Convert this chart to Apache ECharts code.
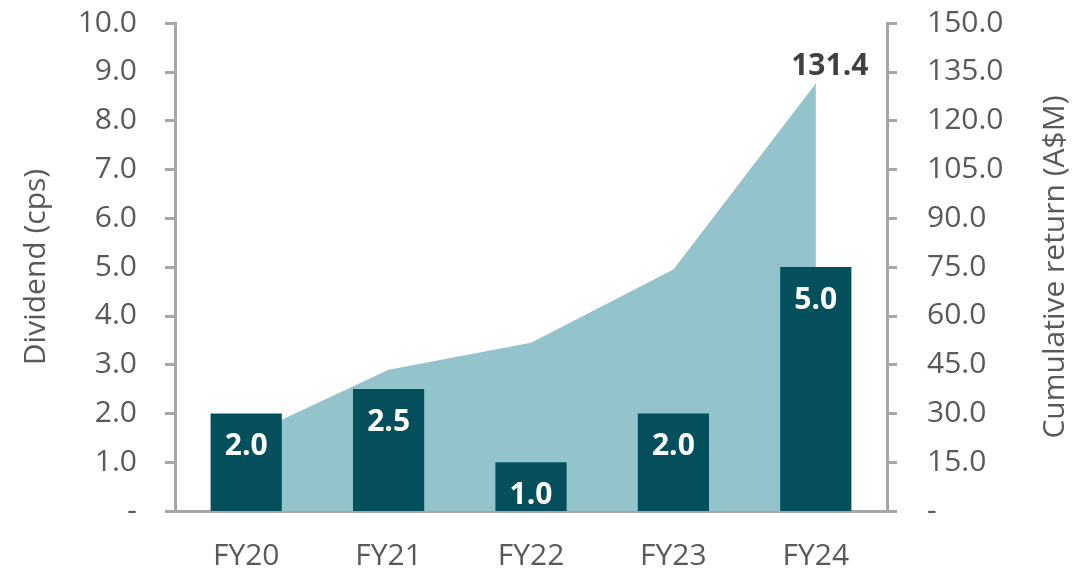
<!DOCTYPE html>
<html>
<head>
<meta charset="utf-8">
<script src="https://cdn.jsdelivr.net/npm/echarts@6/dist/echarts.min.js"></script>
<style>
  html, body { margin: 0; padding: 0; background: #fff; }
  #chart { width: 1074px; height: 571px; }
</style>
</head>
<body>
<div id="chart"></div>
<script>
const categories = ['FY20', 'FY21', 'FY22', 'FY23', 'FY24']
const dividends = [2.0, 2.5, 1.0, 2.0, 5.0]
const cumulativeReturn = [23.0, 43.4, 51.7, 74.2, 131.4]

const axisGrey = '#A6A6A6'
const textGrey = '#595959'
const areaColor = '#93C4CB'
const font = '"Open Sans", "Liberation Sans", sans-serif'

const chart = echarts.init(document.getElementById('chart'))

const fmt = v => (v === 0 ? '-' : v.toFixed(1))

chart.setOption({
  animation: false,
  grid: { left: 175, right: 187, top: 23, bottom: 60, outerBoundsMode: 'none' },
  xAxis: {
    type: 'category',
    data: categories,
    axisLine: { lineStyle: { color: axisGrey, width: 3 } },
    axisTick: { show: false },
    axisLabel: { color: textGrey, fontSize: 30, fontFamily: font, margin: 30 }
  },
  yAxis: [
    {
      type: 'value',
      min: 0, max: 10, interval: 1,
      name: 'Dividend (cps)',
      nameLocation: 'middle',
      nameGap: 124,
      nameTextStyle: { color: textGrey, fontSize: 30, fontFamily: font },
      axisLine: { show: true, lineStyle: { color: axisGrey, width: 3 } },
      axisTick: { show: true, length: 10, lineStyle: { color: axisGrey, width: 3 } },
      splitLine: { show: false },
      axisLabel: { color: textGrey, fontSize: 30, fontFamily: font, margin: 38, formatter: fmt }
    },
    {
      type: 'value',
      min: 0, max: 150, interval: 15,
      name: 'Cumulative return (A$M)',
      nameLocation: 'middle',
      nameGap: 153,
      nameRotate: 90,
      nameTextStyle: { color: textGrey, fontSize: 30, fontFamily: font },
      axisLine: { show: true, lineStyle: { color: axisGrey, width: 3 } },
      axisTick: { show: true, length: 10, lineStyle: { color: axisGrey, width: 3 } },
      splitLine: { show: false },
      axisLabel: { color: textGrey, fontSize: 30, fontFamily: font, margin: 40, formatter: fmt }
    }
  ],
  series: [
    {
      name: 'Cumulative return',
      type: 'line',
      yAxisIndex: 1,
      z: 1,
      symbol: 'circle',
      symbolSize: 1,
      showSymbol: true,
      itemStyle: { color: areaColor },
      lineStyle: { width: 0 },
      areaStyle: { color: areaColor, opacity: 1 },
      data: cumulativeReturn.map((v, i) => i === cumulativeReturn.length - 1
        ? { value: v, label: { show: true, position: 'top', distance: 2, offset: [14, 0], color: '#404040', fontWeight: 'bold', fontSize: 30, fontFamily: font, formatter: p => p.value.toFixed(1) } }
        : v)
    },
    {
      name: 'Dividend',
      type: 'bar',
      yAxisIndex: 0,
      z: 3,
      barWidth: '50%',
      itemStyle: { color: '#03505C' },
      label: {
        show: true,
        position: 'insideTop',
        distance: 18,
        color: '#fff',
        fontWeight: 'bold',
        fontSize: 30,
        fontFamily: font,
        formatter: p => p.value.toFixed(1)
      },
      data: dividends
    }
  ]
})
</script>
</body>
</html>
